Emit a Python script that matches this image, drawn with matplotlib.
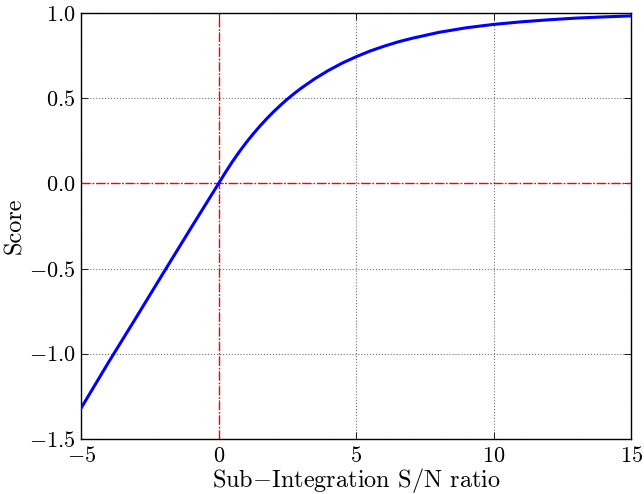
import matplotlib
matplotlib.use("Agg")
import matplotlib.pyplot as plt

# valeurs
snr = [-5, -4, -3, -2, -1, -0.5, 0, 0.25, 0.5, 0.75, 1, 1.25, 1.5, 1.75, 2,
       2.25, 2.5, 2.75, 3, 3.5, 4, 4.5, 5, 5.5, 6, 6.5, 7, 8, 9, 10, 11, 12,
       13, 14, 15]
score = [-1.32, -1.05, -0.788, -0.523, -0.26, -0.13, 0.0, 0.066, 0.128, 0.186,
         0.24, 0.29, 0.337, 0.381, 0.422, 0.46, 0.496, 0.529, 0.56, 0.616,
         0.665, 0.708, 0.745, 0.778, 0.806, 0.831, 0.852, 0.888, 0.915,
         0.935, 0.95, 0.962, 0.972, 0.979, 0.985]

xticks = [-5, 0, 5, 10, 15]
yticks = [-1.5, -1.0, -0.5, 0.0, 0.5, 1.0]

plt.rcParams["font.family"] = "serif"
plt.rcParams["font.serif"] = ["cmr10"]
plt.rcParams["mathtext.fontset"] = "cm"
plt.rcParams["axes.formatter.use_mathtext"] = True

fig = plt.figure(figsize=(6.44, 4.94), dpi=100)
ax = fig.add_axes([0.126, 0.112, 0.854, 0.861])

ax.plot(snr, score, color="b", lw=2.2, zorder=3)
ax.axhline(0, color="r", ls="-.", lw=1.0, zorder=2)
ax.axvline(0, color="r", ls="-.", lw=1.0, zorder=2)

ax.set_xlim(-5, 15)
ax.set_ylim(-1.5, 1.0)
ax.set_xticks(xticks)
ax.set_yticks(yticks)
ax.grid(True, color="0.45", ls=":", lw=0.8, zorder=1)
ax.tick_params(direction="in", top=True, right=True, length=5, width=0.6,
               labelsize=16)
ax.tick_params(axis="x", pad=5.5)
ax.tick_params(axis="y", pad=4)
for s in ax.spines.values():
    s.set_linewidth(1.0)

ax.set_xlabel(r"Sub$-$Integration S/N ratio", fontsize=17.5, labelpad=0)
ax.set_ylabel("Score", fontsize=17.5, labelpad=2)

fig.savefig("out.png", dpi=100, facecolor="white")
